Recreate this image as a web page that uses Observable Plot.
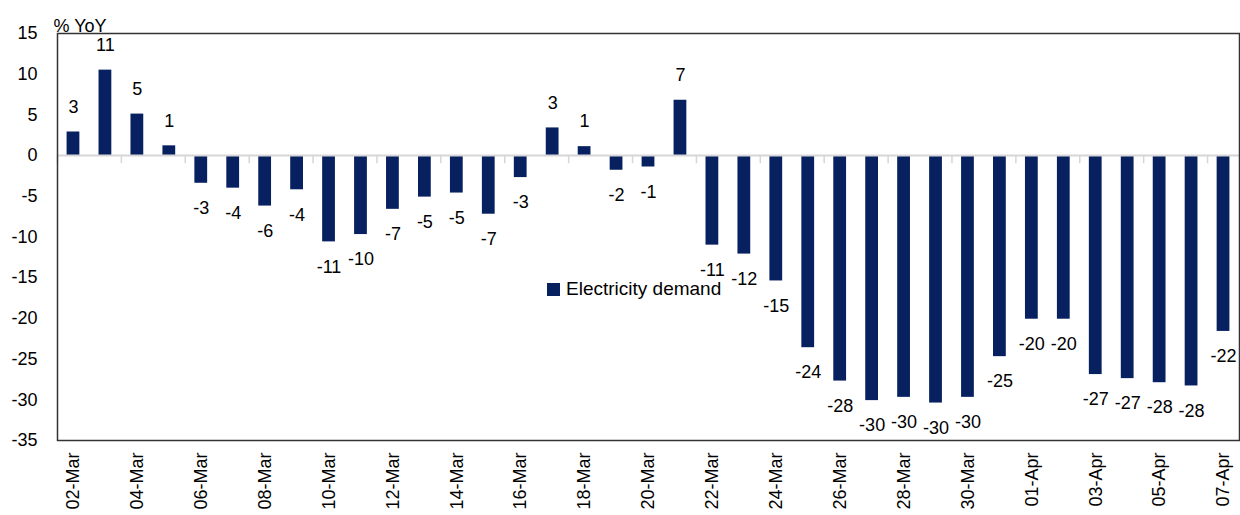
<!DOCTYPE html>
<html>
<head>
<meta charset="utf-8">
<script src="https://cdn.jsdelivr.net/npm/d3@7"></script>
<script src="https://cdn.jsdelivr.net/npm/@observablehq/plot@0.6"></script>
<style>
  html, body { margin: 0; padding: 0; background: #fff; }
  #wrap { position: relative; width: 1240px; height: 515px; font-family: "Liberation Sans", Arial, sans-serif; }
  #legend { position: absolute; left: 547px; top: 278px; display: flex; align-items: center; font-size: 19px; color: #000; }
  #legend .sw { width: 13px; height: 13px; background: #072160; margin-right: 6px; }
</style>
</head>
<body>
<div id="wrap">
  <div id="legend"><span class="sw"></span><span>Electricity demand</span></div>
</div>
<script>
const dates = [
  "02-Mar","03-Mar","04-Mar","05-Mar","06-Mar","07-Mar","08-Mar","09-Mar","10-Mar","11-Mar",
  "12-Mar","13-Mar","14-Mar","15-Mar","16-Mar","17-Mar","18-Mar","19-Mar","20-Mar","21-Mar",
  "22-Mar","23-Mar","24-Mar","25-Mar","26-Mar","27-Mar","28-Mar","29-Mar","30-Mar","31-Mar",
  "01-Apr","02-Apr","03-Apr","04-Apr","05-Apr","06-Apr","07-Apr"
];
const demand = [
  2.9, 10.5, 5.1, 1.2, -3.4, -4.0, -6.2, -4.2, -10.6, -9.7,
  -6.6, -5.1, -4.6, -7.2, -2.7, 3.4, 1.1, -1.8, -1.4, 6.8,
  -11.0, -12.1, -15.4, -23.6, -27.7, -30.1, -29.7, -30.4, -29.7, -24.7,
  -20.1, -20.1, -26.9, -27.4, -27.9, -28.3, -21.6
];
const yTicks = [15, 10, 5, 0, -5, -10, -15, -20, -25, -30, -35];
const seriesName = "Electricity demand";
const yUnit = "% YoY";

const data = dates.map((d, i) => ({date: d, value: demand[i]}));
const xTicks = dates.filter((d, i) => i % 2 === 0);

const W = 1240, H = 515, mL = 57, mR = 1, mT = 33, mB = 75;
const step = (W - mL - mR) / dates.length;
const fmt = v => String(Math.round(v)); // plain hyphen-minus like the source
const navy = "#072160";
const FS = 18;

const chart = Plot.plot({
  width: W, height: H,
  marginLeft: mL, marginRight: mR, marginTop: mT, marginBottom: mB,
  style: {fontFamily: "'Liberation Sans', Arial, sans-serif", fontSize: FS + "px", color: "#000", background: "#fff"},
  x: {type: "band", domain: dates, paddingInner: 0.6, paddingOuter: 0.3},
  y: {domain: [-35, 15]},
  marks: [
    Plot.barY(data, {x: "date", y: "value", fill: navy}),
    Plot.ruleY([0], {stroke: "#d6d6d6", strokeWidth: 2}),
    Plot.ruleX(xTicks, {x: d => d, y1: 0, y2: -1, stroke: "#d6d6d6", strokeWidth: 1.5, dx: -step / 2}),
    Plot.frame({stroke: "#333", strokeWidth: 1.5}),
    Plot.text(data.filter(d => d.value >= 0), {x: "date", y: "value", text: d => fmt(d.value), dy: -25, fill: "#000", fontSize: FS}),
    Plot.text(data.filter(d => d.value < 0), {x: "date", y: "value", text: d => fmt(d.value), dy: 25, fill: "#000", fontSize: FS}),
    Plot.axisY({ticks: yTicks, tickFormat: fmt, tickSize: 0, tickPadding: 20, label: null, fontSize: FS}),
    Plot.axisX({ticks: xTicks, tickSize: 0, tickPadding: 12, tickRotate: -90, label: null, fontSize: FS}),
    Plot.text([yUnit], {frameAnchor: "top-left", textAnchor: "start", lineAnchor: "bottom", dx: -4, dy: -2, fill: "#000", fontSize: FS})
  ]
});
document.getElementById("wrap").prepend(chart);
</script>
</body>
</html>
